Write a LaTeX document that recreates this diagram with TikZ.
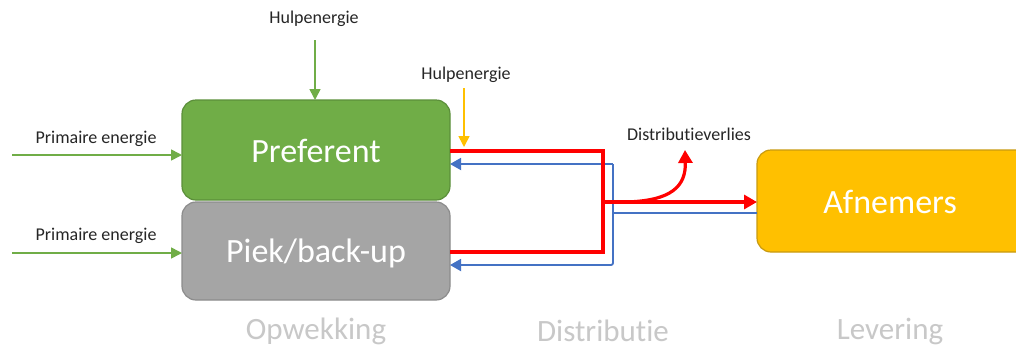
\documentclass[tikz,border=0pt]{standalone}
\usepackage{fontspec}
\setmainfont{Carlito}[Ligatures=NoCommon]
\usetikzlibrary{arrows.meta}
\definecolor{cgreen}{HTML}{70AD47}
\definecolor{cgreenb}{HTML}{5B8F3A}
\definecolor{cgray}{HTML}{A5A5A5}
\definecolor{cgrayb}{HTML}{8C8C8C}
\definecolor{cyel}{HTML}{FFC000}
\definecolor{cyelb}{HTML}{C89A10}
\definecolor{cred}{HTML}{FF0000}
\definecolor{cblue}{HTML}{4472C4}
\definecolor{clab}{HTML}{C8C8C8}
\tikzset{
  box/.style={rounded corners=14pt, line width=1.2pt, inner sep=0pt, text=white, font=\fontsize{34}{38}\selectfont},
  small/.style={font=\fontsize{18}{20}\selectfont, text=black!85, inner sep=1pt},
  phase/.style={font=\fontsize{31}{34}\selectfont, text=clab, inner sep=0pt},
  garrow/.style={draw=cgreen, line width=1.6pt, -{Triangle[length=11pt,width=11pt]}},
  yarrow/.style={draw=cyel, line width=1.6pt, -{Triangle[length=11pt,width=11pt]}},
  redline/.style={draw=cred, line width=3.2pt},
  blueline/.style={draw=cblue, line width=1.8pt},
  bluearrow/.style={blueline, -{Triangle[length=11pt,width=12pt]}},
  redarrow/.style={redline, -{Triangle[length=13pt,width=14pt]}},
}
\begin{document}
\begin{tikzpicture}[x=1pt,y=-1pt]
\useasboundingbox (0,0) rectangle (1016,349);
\clip (0,0) rectangle (1016,349);
\fill[white] (0,0) rectangle (1016,349);
% boxes
\draw[box, fill=cgreen, draw=cgreenb] (182,100) rectangle (450,200);
\node[box, draw=none] (pref) at (316,151) {Preferent};
\draw[box, fill=cgray, draw=cgrayb] (182,202) rectangle (450,300);
\node[box, draw=none] (piek) at (316,253) {Piek/back-up};
\draw[box, fill=cyel, draw=cyelb] (757,150) rectangle (1040,252);
\node[box, draw=none] (afn) at (890,202) {Afnemers};
% anchor coordinates
\coordinate (prefT) at (315,100);
\coordinate (prefL) at (182,155);
\coordinate (piekL) at (182,253);
\coordinate (prefR1) at (450,151);
\coordinate (prefR2) at (450,164);
\coordinate (piekR1) at (450,252);
\coordinate (piekR2) at (450,265);
\coordinate (afnL1) at (757,202);
\coordinate (afnL2) at (757,213);
\coordinate (yelT) at (464,147);
% labels
\node[small] (hulp1) at (314,19) {Hulpenergie};
\node[small] (hulp2) at (466,75) {Hulpenergie};
\node[small] (prim1) at (96,139) {Primaire energie};
\node[small] (prim2) at (96,236) {Primaire energie};
\node[small] (dv) at (689,134) {Distributieverlies};
\coordinate (dvT) at (685,150);
% phase labels
\node[phase] (opw) at (316,331) {Opwekking};
\node[phase] (dis) at (603,331) {Distributie};
\node[phase] (lev) at (890,331) {Levering};
% input arrows
\coordinate (h1s) at (315,40);
\coordinate (h2s) at (464,88);
\coordinate (p1s) at (12,155);
\coordinate (p2s) at (12,253);
\draw[garrow] (h1s) -- (prefT);
\draw[yarrow] (h2s) -- (yelT);
\draw[garrow] (p1s) -- (prefL);
\draw[garrow] (p2s) -- (piekL);
% blue return
\draw[blueline] (afnL2) -- (613,213);
\draw[bluearrow] (613,164) -- (prefR2);
\draw[bluearrow, rounded corners=2pt] (613,164) -- (613,265) -- (piekR2);
% red supply
\draw[redline, line join=miter] (prefR1) -- (603,151) -- (603,252) -- (piekR1);
\draw[redarrow] (603,202) -- (afnL1);
\draw[redarrow] (625,202) .. controls (672,201) and (686,186) .. (dvT);
\end{tikzpicture}
\end{document}
